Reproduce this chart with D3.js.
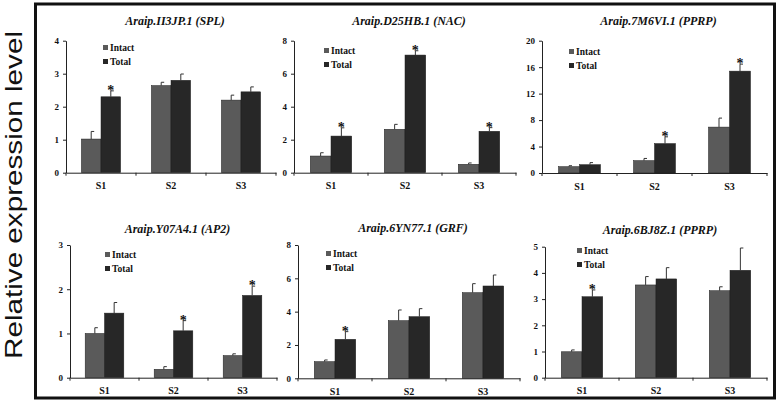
<!DOCTYPE html>
<html><head><meta charset="utf-8">
<script src="https://cdn.jsdelivr.net/npm/d3@7"></script>
<style>
body{margin:0;background:#fff}
svg{display:block;font-family:"Liberation Serif","Times New Roman",serif}
.sf{font-family:"Liberation Serif","Times New Roman",serif;font-weight:bold}
.it{font-style:italic}
</style>
</head><body>
<script>
// ---- data ----
const categories = ["S1", "S2", "S3"];
const seriesNames = ["Intact", "Total"];
const titles = [
  ["Araip.II3JP.1", "SPL"], ["Araip.D25HB.1", "NAC"], ["Araip.7M6VI.1", "PPRP"],
  ["Araip.Y07A4.1", "AP2"], ["Araip.6YN77.1", "GRF"], ["Araip.6BJ8Z.1", "PPRP"]
];
const intactValues = [
  [1.02, 2.64, 2.20], [1.01, 2.63, 0.51], [0.96, 1.87, 6.94],
  [1.00, 0.19, 0.50], [1.00, 3.46, 5.14], [0.99, 3.54, 3.32]
];
const intactErrors = [
  [0.23, 0.10, 0.15], [0.20, 0.30, 0.08], [0.14, 0.33, 1.36],
  [0.13, 0.06, 0.04], [0.10, 0.64, 0.54], [0.07, 0.32, 0.15]
];
const totalValues = [
  [2.30, 2.80, 2.45], [2.22, 7.13, 2.51], [1.26, 4.45, 15.4],
  [1.46, 1.06, 1.86], [2.34, 3.70, 5.54], [3.09, 3.77, 4.10]
];
const totalErrors = [
  [0.18, 0.19, 0.15], [0.50, 0.26, 0.22], [0.31, 1.02, 1.06],
  [0.24, 0.23, 0.21], [0.46, 0.48, 0.66], [0.26, 0.43, 0.85]
];
const significant = [
  ["S1"], ["S1", "S2", "S3"], ["S2", "S3"], ["S2", "S3"], ["S1"], ["S1"]
];
const yMax = [4, 8, 20, 3, 8, 5];
const yStep = [1, 2, 4, 1, 2, 1];
const yLabel = "Relative expression level";

// ---- layout (pixels) ----
const layout = [
  {x0: 66, x1: 276, yt: 40.7, yb: 172.7, ty: 25, lx: 105, ly: 48},
  {x0: 294, x1: 516, yt: 40.7, yb: 172.7, ty: 25, lx: 326, ly: 51},
  {x0: 542, x1: 767, yt: 40.7, yb: 173, ty: 25, lx: 571, ly: 52},
  {x0: 70, x1: 277, yt: 245, yb: 377.7, ty: 233, lx: 107, ly: 255},
  {x0: 298, x1: 520, yt: 245, yb: 378.3, ty: 232, lx: 328, ly: 254},
  {x0: 545, x1: 767, yt: 246.7, yb: 377.7, ty: 234, lx: 579, ly: 251}
];
const colors = {Intact: "#5a5a5a", Total: "#272727"};
const FF = "Liberation Serif";

const W = 778, H = 402;
const svg = d3.select("body").append("svg").attr("width", W).attr("height", H);

svg.append("rect").attr("x", 35.5).attr("y", 4).attr("width", 739).attr("height", 394)
  .attr("fill", "none").attr("stroke", "#111").attr("stroke-width", 3);

svg.append("text")
  .attr("transform", "translate(22,195) rotate(-90)")
  .attr("text-anchor", "middle")
  .style("font-family", "Liberation Sans")
  .style("font-size", "24px").attr("fill", "#111")
  .attr("textLength", 328).attr("lengthAdjust", "spacingAndGlyphs")
  .text(yLabel);

const sfText = (size) => svg.append("text").attr("class", "sf")
  .attr("font-family", FF).attr("font-weight", "bold")
  .attr("font-size", size).attr("fill", "#111");

layout.forEach((L, i) => {
  const g = svg.append("g");
  const x = d3.scaleBand().domain(categories).range([L.x0, L.x1]);
  const bw = x.bandwidth() * 0.28;
  const xs = d3.scaleBand().domain(seriesNames).range([0, 2 * bw]);
  const y = d3.scaleLinear().domain([0, yMax[i]]).range([L.yb, L.yt]);

  // y axis
  const yAxis = d3.axisLeft(y).tickValues(d3.range(0, yMax[i] + 1e-9, yStep[i]))
    .tickSize(3).tickSizeOuter(0).tickFormat(d3.format("d"));
  const ya = svg.append("g").attr("transform", `translate(${L.x0},0)`).call(yAxis)
    .attr("font-family", FF).attr("font-weight", "bold").attr("font-size", 9);
  ya.select(".domain").attr("stroke", "#222");
  ya.selectAll(".tick line").attr("stroke", "#222");
  ya.selectAll("text").attr("class", "sf").attr("fill", "#111").attr("x", -7);

  // x axis
  const xAxis = d3.axisBottom(x).tickSize(0).tickSizeOuter(0);
  const xa = svg.append("g").attr("transform", `translate(0,${L.yb})`).call(xAxis)
    .attr("font-family", FF).attr("font-weight", "bold").attr("font-size", 10);
  xa.select(".domain").attr("stroke", "#222");
  xa.selectAll("text").attr("class", "sf").attr("fill", "#111").attr("dy", "1.35em");
  // boundary ticks
  g.selectAll(".bt").data([L.x0, ...categories.map(c => x(c) + x.bandwidth())])
    .join("line").attr("x1", d => d).attr("x2", d => d)
    .attr("y1", L.yb).attr("y2", L.yb + 3).attr("stroke", "#222");

  // bars
  const rows = [];
  categories.forEach((c, j) => {
    rows.push({c, s: "Intact", v: intactValues[i][j], e: intactErrors[i][j]});
    rows.push({c, s: "Total", v: totalValues[i][j], e: totalErrors[i][j]});
  });
  const bx = d => x(d.c) + x.bandwidth() / 2 - bw + xs(d.s);
  g.selectAll(".bar").data(rows).join("rect")
    .attr("x", bx).attr("width", bw)
    .attr("y", d => y(d.v)).attr("height", d => y(0) - y(d.v))
    .attr("fill", d => colors[d.s]).attr("stroke", "#1e1e1e").attr("stroke-width", 0.5);
  // error bars
  g.selectAll(".err").data(rows).join("line")
    .attr("x1", d => bx(d) + bw / 2).attr("x2", d => bx(d) + bw / 2)
    .attr("y1", d => y(d.v)).attr("y2", d => y(d.v + d.e))
    .attr("stroke", "#333").attr("stroke-width", 1);
  g.selectAll(".cap").data(rows).join("line")
    .attr("x1", d => bx(d) + bw / 2).attr("x2", d => bx(d) + bw / 2 + 3)
    .attr("y1", d => y(d.v + d.e)).attr("y2", d => y(d.v + d.e))
    .attr("stroke", "#333").attr("stroke-width", 1);
  // stars
  rows.filter(d => d.s === "Total" && significant[i].includes(d.c)).forEach(d => {
    sfText(14).attr("x", bx(d) + bw / 2).attr("y", y(d.v + d.e) + 4)
      .attr("text-anchor", "middle").text("*");
  });

  // title
  sfText(12).attr("class", "sf it").attr("font-style", "italic")
    .attr("x", (L.x0 + L.x1) / 2 + 4).attr("y", L.ty).attr("text-anchor", "middle")
    .text(titles[i][0] + " (" + titles[i][1] + ")");

  // legend
  seriesNames.forEach((s, k) => {
    const ly = L.ly + k * 14;
    svg.append("rect").attr("x", L.lx - 2).attr("y", ly - 3).attr("width", 5).attr("height", 5)
      .attr("fill", colors[s]);
    sfText(9.5).attr("x", L.lx + 5).attr("y", ly + 3).text(s);
  });
});
</script>
</body></html>
